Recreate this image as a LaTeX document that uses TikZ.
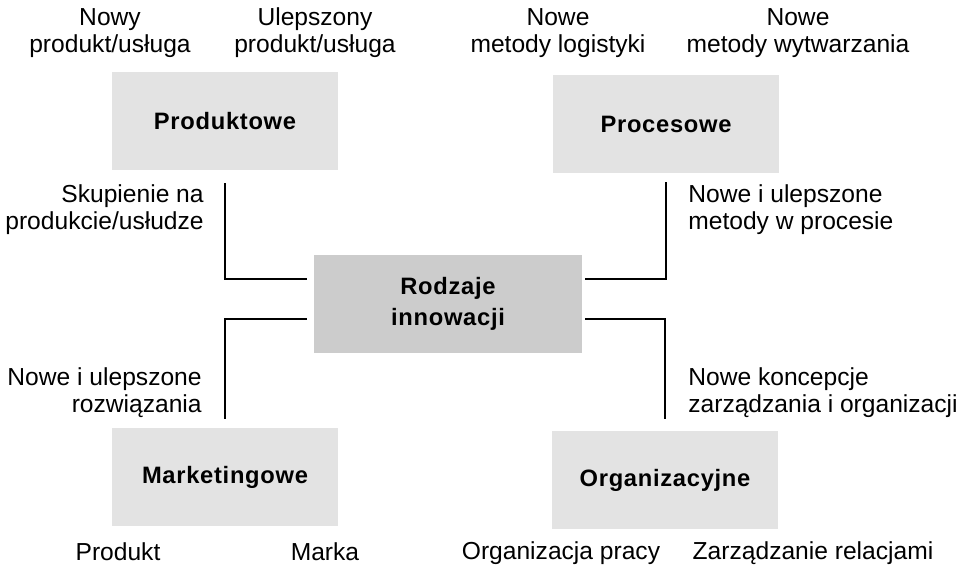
\documentclass[tikz,border=0pt]{standalone}
\usepackage{fontspec}
\setmainfont{Liberation Sans}
\definecolor{kindgray}{HTML}{E3E3E3}
\definecolor{hubgray}{HTML}{CCCCCC}

\begin{document}
\begin{tikzpicture}[x=0.02cm,y=-0.02cm,
    every node/.style={font=\fontsize{14}{15.4}\selectfont,inner sep=0pt,align=center},
    kind/.style={fill=kindgray,minimum width=4.52cm,minimum height=1.96cm,
      font=\fontsize{13.5}{17.6}\selectfont\bfseries\addfontfeature{LetterSpace=3}},
    hub/.style={kind,fill=hubgray,minimum width=5.36cm},
    link/.style={line width=0.9pt}]
  \useasboundingbox (0,0) rectangle (964,567);
  % the five kinds
  \node[hub] (rodz) at (448,304) {Rodzaje\\innowacji};
  \node[kind] (prod) at (225,121) {Produktowe};
  \node[kind] (proc) at (666,124) {Procesowe};
  \node[kind] (mark) at (225,477) {Marketingowe};
  \node[kind] (org) at (665,480) {Organizacyjne};
  % connectors
  \draw[link] ([yshift=-0.26cm]prod.south) |- ([xshift=-0.14cm,yshift=0.5cm]rodz.west);
  \draw[link] ([yshift=-0.18cm]proc.south) |- ([xshift=0.06cm,yshift=0.5cm]rodz.east);
  \draw[link] ([xshift=-0.14cm,yshift=-0.3cm]rodz.west) -| ([yshift=0.18cm]mark.north);
  \draw[link] ([xshift=0.06cm,yshift=-0.3cm]rodz.east) -| ([yshift=0.24cm]org.north);
  % labels
  \node (nowy) at (110,33) {Nowy\\produkt/usługa};
  \node (ulep) at (315,33) {Ulepszony\\produkt/usługa};
  \node (logi) at (558,33) {Nowe\\metody logistyki};
  \node (wytw) at (798,33) {Nowe\\metody wytwarzania};
  \node[anchor=east,align=right] (skup) at (204,210) {Skupienie na\\produkcie/usłudze};
  \node[anchor=west,align=left] (metw) at (688,210) {Nowe i ulepszone\\metody w procesie};
  \node[anchor=east,align=right] (rozw) at (202,393) {Nowe i ulepszone\\rozwiązania};
  \node[anchor=west,align=left] (konc) at (688,393) {Nowe koncepcje\\zarządzania i organizacji};
  \node (prdk) at (118,552) {Produkt};
  \node (mrka) at (325,552) {Marka};
  \node (orgp) at (561,553) {Organizacja pracy};
  \node (zarz) at (813,553) {Zarządzanie relacjami};
\end{tikzpicture}
\end{document}
